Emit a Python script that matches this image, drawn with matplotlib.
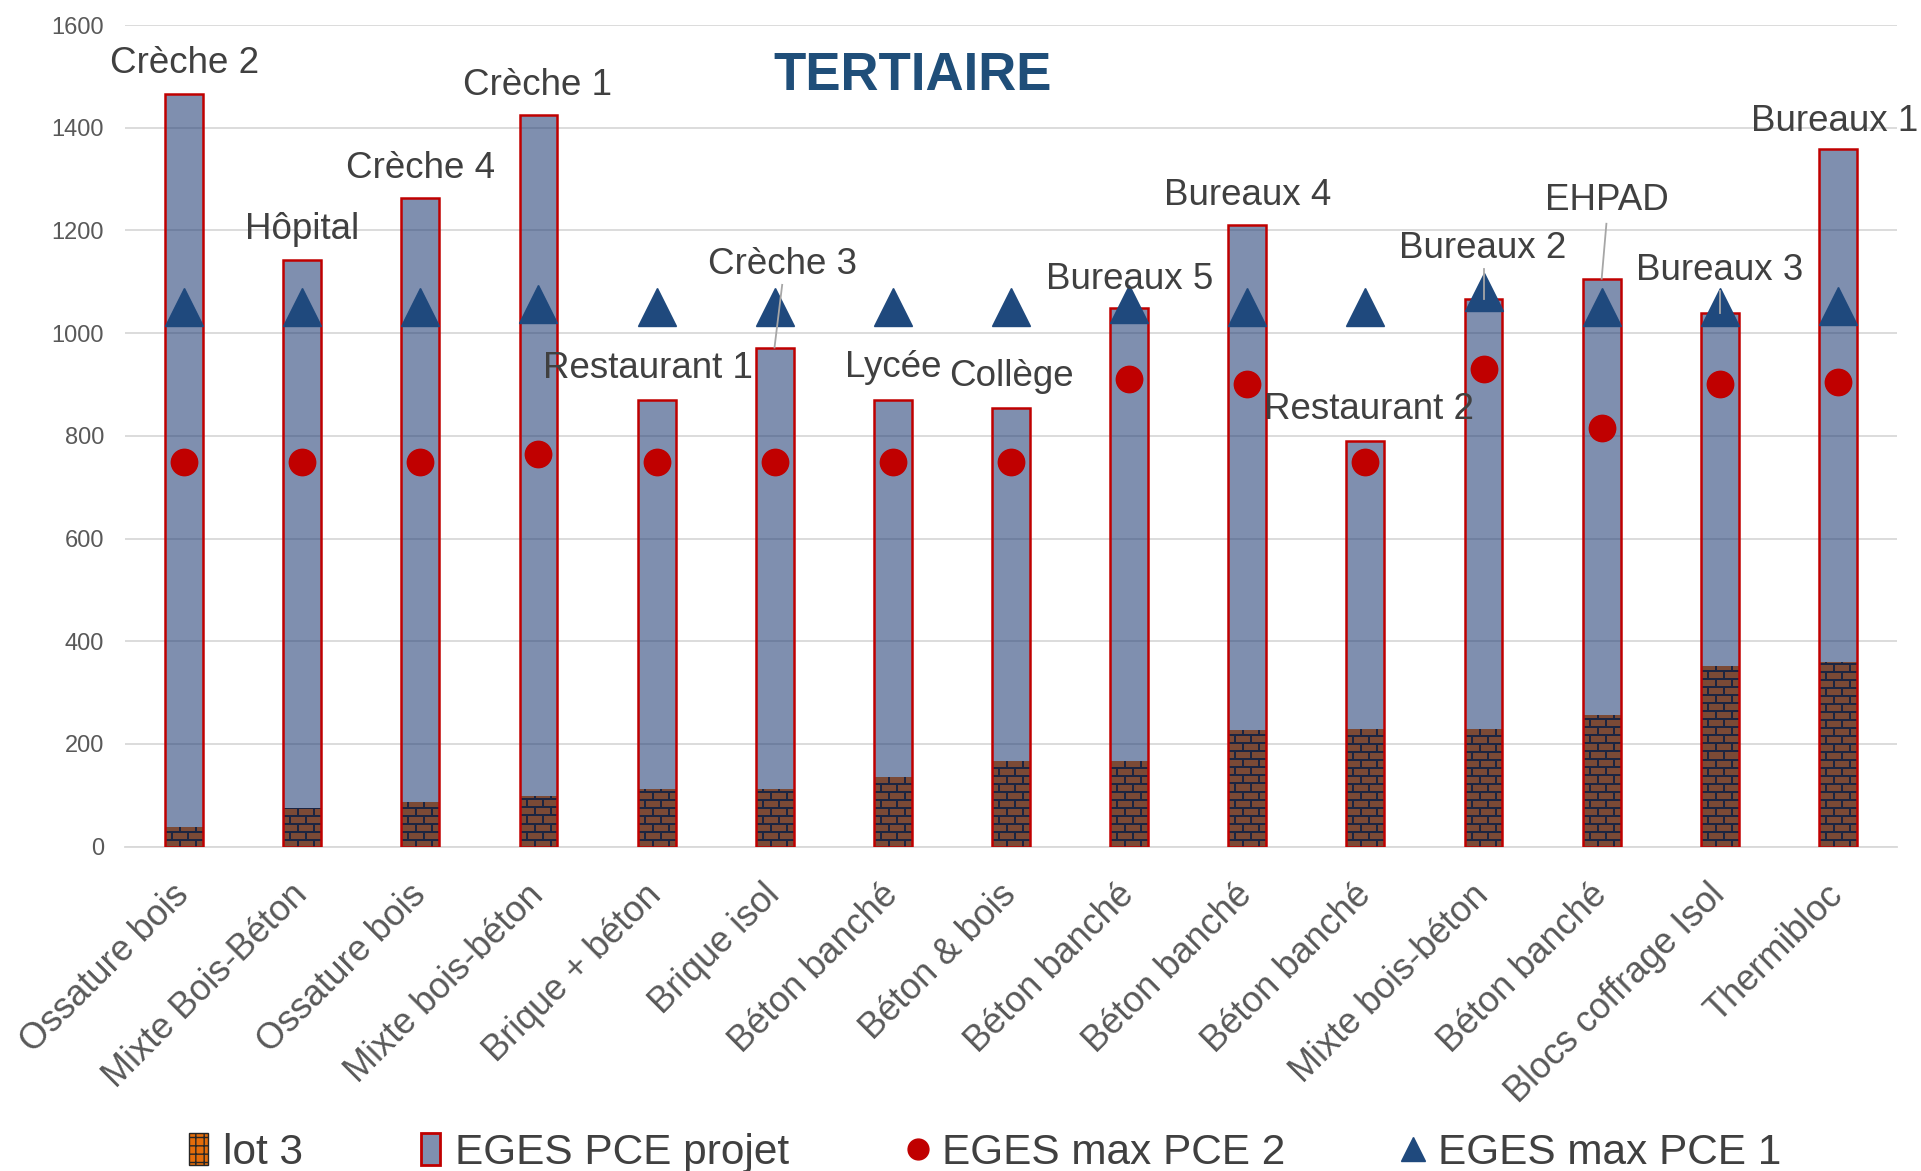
import numpy as np
import matplotlib
matplotlib.use("Agg")
import matplotlib.pyplot as plt
from matplotlib.patches import Patch
from matplotlib.lines import Line2D

# ---------------- data ----------------
categories = ["Ossature bois", "Mixte Bois-Béton", "Ossature bois", "Mixte bois-béton",
              "Brique + béton", "Brique isol", "Béton banché", "Béton & bois",
              "Béton banché", "Béton banché", "Béton banché", "Mixte bois-béton",
              "Béton banché", "Blocs coffrage Isol", "Thermibloc"]
projects = ["Crèche 2", "Hôpital", "Crèche 4", "Crèche 1", "Restaurant 1", "Crèche 3",
            "Lycée", "Collège", "Bureaux 5", "Bureaux 4", "Restaurant 2", "Bureaux 2",
            "EHPAD", "Bureaux 3", "Bureaux 1"]
eges_projet = [1466, 1143, 1264, 1425, 870, 971, 870, 854, 1048, 1211, 789, 1067, 1105, 1040, 1358]
lot3 = [38, 75, 87, 98, 112, 112, 136, 167, 167, 226, 229, 229, 256, 351, 360]
eges_max_pce2 = [750, 750, 750, 765, 750, 750, 750, 750, 910, 900, 750, 930, 815, 900, 905]
eges_max_pce1 = [1050, 1050, 1050, 1057, 1050, 1050, 1050, 1050, 1057, 1050, 1050, 1081, 1050, 1050, 1053]
yticks = [0, 200, 400, 600, 800, 1000, 1200, 1400, 1600]

# label placement (x in category units, baseline in data units)
label_x = [0, 1.0, 2.0, 2.99, 3.925, 5.066, 6.0, 7.0, 8.0, 9.0, 10.03, 10.99, 12.04, 13.0, 13.97]
label_y = [1506, 1183, 1302, 1463, 912, 1116, 915, 898, 1085, 1249, 832, 1147, 1239, 1103, 1393]
leaders = [(5.063, 1094, 4.998, 972), (11.0, 1124, 11.0, 1067),
           (12.04, 1213, 12.0, 1106), (13.0, 1083, 13.0, 1040)]

plt.rcParams['font.family'] = ['Liberation Sans', 'DejaVu Sans']

W, H, DPI = 1921, 1171, 100
fig = plt.figure(figsize=(W / DPI, H / DPI), dpi=DPI)
ax = fig.add_axes([125 / W, (H - 846.7) / H, (1897 - 125) / W, (846.7 - 25) / H])

x = np.arange(len(categories))
bw = 0.32
ax.set_xlim(-0.5, len(categories) - 0.5)
ax.set_ylim(0, 1600)

grid_c = '#D9D9D9'
ax.set_yticks(yticks)
ax.grid(axis='y', color=grid_c, lw=1.3, zorder=0)
ax.set_axisbelow(True)
for s in ['top', 'right', 'left']:
    ax.spines[s].set_visible(False)
ax.spines['bottom'].set_color(grid_c)
ax.spines['bottom'].set_linewidth(1.3)
ax.spines['bottom'].set_zorder(0.5)
ax.tick_params(axis='both', length=0)
ax.tick_params(axis='y', labelsize=17, labelcolor='#595959', pad=15)
ax.set_xticks(x)
ax.set_xticklabels(categories, rotation=45, ha='right', va='center',
                   rotation_mode='anchor', fontsize=26, color='#595959')
ax.tick_params(axis='x', pad=31)

# EGES PCE projet fill (semi-transparent so gridlines show through)
ax.bar(x, eges_projet, bw, color='#1E3A73', alpha=0.57, lw=0, zorder=2)

# lot 3 bars with brick texture
lot_bars = ax.bar(x, lot3, bw, color='#7B4A36', lw=0, zorder=3)
brick = np.array([0x7B, 0x4A, 0x36]) / 255.0
mortar = np.array([0x1C, 0x25, 0x41]) / 255.0
for rect in lot_bars:
    x0, w, h = rect.get_x(), rect.get_width(), rect.get_height()
    p0 = ax.transData.transform((x0, 0))
    p1 = ax.transData.transform((x0 + w, h))
    wp = max(int(round(p1[0] - p0[0])), 1)
    hp = max(int(round(p1[1] - p0[1])), 1)
    img = np.empty((hp, wp, 3))
    img[:] = brick
    for r in range(hp):
        row = r // 8
        if r % 8 in (6, 7):
            img[r, :] = mortar
            continue
        off = 0 if row % 2 == 0 else 8
        for c in range(wp):
            if (c + off) % 16 in (14, 15):
                img[r, c] = mortar
    ax.imshow(img, extent=[x0, x0 + w, 0, h], origin='lower', interpolation='nearest',
              aspect='auto', zorder=3)

# red outline of EGES PCE projet bars
ax.bar(x, eges_projet, bw, fill=False, edgecolor='#C00000', lw=1.8, zorder=4)

ax.set_xlim(-0.5, len(categories) - 0.5)
ax.set_ylim(0, 1600)

# markers
ax.plot(x, eges_max_pce2, ls='none', marker='o', ms=19, color='#C00000', mec='#C00000', zorder=6)
ax.plot(x, eges_max_pce1, ls='none', marker='^', ms=27, color='#1F497D', mec='#1F497D', zorder=5)

# leader lines
for (xa, ya, xb, yb) in leaders:
    ax.plot([xa, xb], [ya, yb], color='#A6A6A6', lw=1.3, zorder=7)

# data labels
for name, lx, ly in zip(projects, label_x, label_y):
    ax.text(lx, ly, name, ha='center', va='baseline', fontsize=26.5, color='#404040', zorder=8)

# title
fig.text(913 / W, (H - 90) / H, 'TERTIAIRE', ha='center', va='baseline',
         fontsize=38, fontweight='bold', color='#1F4E79')

# legend
handles = [
    Patch(facecolor='#E46C0A', edgecolor='#262626', hatch='++', lw=1),
    Patch(facecolor='#7F8FAF', edgecolor='#C00000', lw=2),
    Line2D([], [], ls='none', marker='o', ms=15, color='#C00000'),
    Line2D([], [], ls='none', marker='^', ms=17, color='#1F497D'),
]
leg_labels = ['lot 3', 'EGES PCE projet', 'EGES max PCE 2', 'EGES max PCE 1']
leg = fig.legend(handles, leg_labels, loc='center', bbox_to_anchor=(985 / W, 18 / H),
                 ncol=4, frameon=False, fontsize=30.5, handlelength=0.45, handleheight=0.8,
                 handletextpad=0.35, columnspacing=2.8, borderaxespad=0, borderpad=0)
for t in leg.get_texts():
    t.set_color('#404040')

fig.savefig('out.png', dpi=DPI)
